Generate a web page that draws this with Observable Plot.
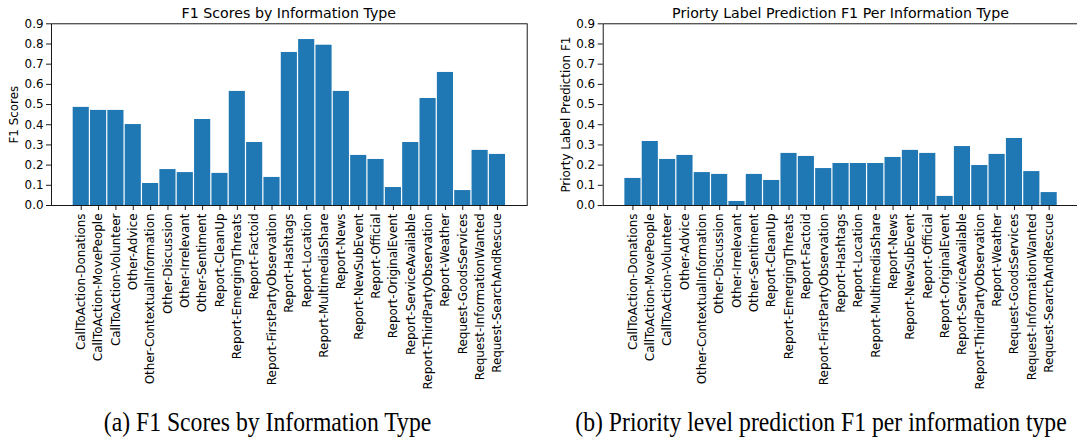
<!DOCTYPE html>
<html>
<head>
<meta charset="utf-8">
<script src="https://cdn.jsdelivr.net/npm/d3@7"></script>
<script src="https://cdn.jsdelivr.net/npm/@observablehq/plot@0.6"></script>
<style>
  html, body { margin: 0; padding: 0; background: white; }
  #wrap { position: relative; width: 1077px; height: 444px; overflow: hidden; background: white; }
  .panel { position: absolute; top: 0; }
  .panel svg { max-width: none !important; display: block; }
  .title { position: absolute; top: 5px; text-align: center; font-family: "DejaVu Sans", sans-serif; font-size: 14.2px; line-height: 1.164; color: black; white-space: nowrap; }
  .caption { position: absolute; top: 411px; text-align: center; font-family: "Liberation Serif", "Times New Roman", serif; font-size: 23.7px; color: black; white-space: nowrap; transform: scaleY(1.12); transform-origin: center bottom; }
</style>
</head>
<body>
<div id="wrap"></div>
<script>
const categories = [
  "CallToAction-Donations", "CallToAction-MovePeople", "CallToAction-Volunteer",
  "Other-Advice", "Other-ContextualInformation", "Other-Discussion", "Other-Irrelevant",
  "Other-Sentiment", "Report-CleanUp", "Report-EmergingThreats", "Report-Factoid",
  "Report-FirstPartyObservation", "Report-Hashtags", "Report-Location",
  "Report-MultimediaShare", "Report-News", "Report-NewSubEvent", "Report-Official",
  "Report-OriginalEvent", "Report-ServiceAvailable", "Report-ThirdPartyObservation",
  "Report-Weather", "Request-GoodsServices", "Request-InformationWanted",
  "Request-SearchAndRescue"
];
const f1Scores = [
  0.486, 0.471, 0.471, 0.401, 0.109, 0.178, 0.163, 0.426, 0.159, 0.565, 0.312,
  0.139, 0.758, 0.822, 0.794, 0.565, 0.248, 0.228, 0.089, 0.312, 0.530, 0.659,
  0.074, 0.273, 0.253
];
const priorityF1 = [
  0.134, 0.317, 0.228, 0.248, 0.163, 0.154, 0.020, 0.154, 0.124, 0.258, 0.243,
  0.183, 0.208, 0.208, 0.208, 0.238, 0.273, 0.258, 0.045, 0.292, 0.198, 0.253,
  0.332, 0.168, 0.064
];
const yTicks = [0, 0.1, 0.2, 0.3, 0.4, 0.5, 0.6, 0.7, 0.8, 0.9];
const titles = ["F1 Scores by Information Type", "Priorty Label Prediction F1 Per Information Type"];
const yLabels = ["F1 Scores", "Priorty Label Prediction F1"];
const captions = ["(a) F1 Scores by Information Type", "(b) Priority level prediction F1 per information type"];

const wrap = document.getElementById("wrap");

function makeChart(values, yLabel, width, marginLeft, marginRight) {
  const data = categories.map((c, i) => ({category: c, value: values[i]}));
  return Plot.plot({
    width,
    height: 390,
    marginLeft,
    marginRight,
    marginTop: 23.3,
    marginBottom: 185,
    style: {fontFamily: "'DejaVu Sans', sans-serif", fontSize: "11.9px", color: "black", background: "transparent", overflow: "visible"},
    x: {type: "band", domain: categories, paddingInner: 0.07, paddingOuter: 1.25, round: false},
    y: {domain: [0, 0.9]},
    marks: [
      Plot.barY(data, {x: "category", y: "value", fill: "#1f77b4"}),
      Plot.frame({stroke: "black", strokeWidth: 0.9}),
      Plot.axisX({tickRotate: -90, tickSize: 5, tickPadding: 3, label: null, fontSize: 11.9, strokeWidth: 0.9}),
      Plot.axisY({ticks: yTicks, tickFormat: d => d.toFixed(1), tickSize: 5, tickPadding: 3, label: yLabel, labelAnchor: "center", labelArrow: "none", labelOffset: 42, fontSize: 11.9, strokeWidth: 0.9})
    ]
  });
}

const panels = [
  {left: 0, width: 540, marginLeft: 51, marginRight: 13.3, values: f1Scores, capLeft: 102, capWidth: 331},
  {left: 540, width: 545, marginLeft: 62.7, marginRight: 6.6, values: priorityF1, capLeft: 572, capWidth: 498}
];

panels.forEach((p, i) => {
  const div = document.createElement("div");
  div.className = "panel";
  div.style.left = p.left + "px";
  div.style.width = p.width + "px";
  div.appendChild(makeChart(p.values, yLabels[i], p.width, p.marginLeft, p.marginRight));
  wrap.appendChild(div);

  const t = document.createElement("div");
  t.className = "title";
  t.style.left = (p.left + p.marginLeft) + "px";
  t.style.width = (p.width - p.marginLeft - p.marginRight) + "px";
  t.textContent = titles[i];
  wrap.appendChild(t);

  const c = document.createElement("div");
  c.className = "caption";
  c.style.left = (p.capLeft - 20) + "px";
  c.style.width = (p.capWidth + 40) + "px";
  c.textContent = captions[i];
  wrap.appendChild(c);
});
</script>
</body>
</html>
